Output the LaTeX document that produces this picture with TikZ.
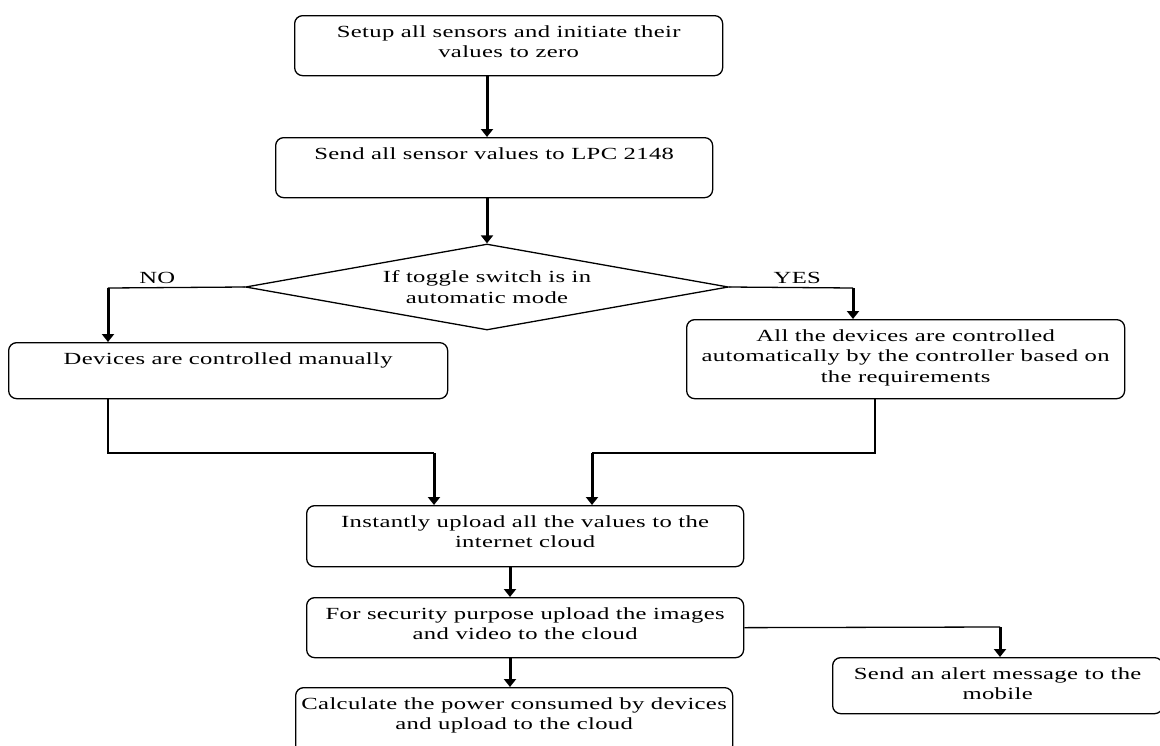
\documentclass[tikz,border=0pt]{standalone}
\usepackage{fontspec}
\setmainfont{Liberation Serif}[FakeStretch=1.45, LetterSpace=2]
\usetikzlibrary{arrows.meta}
\usetikzlibrary{shapes.geometric}

% box text: width, height, lines (top aligned)
\newcommand{\boxtext}[3]{\parbox[c][#2pt][t]{#1pt}{\centering\vspace*{10pt}#3}}

\tikzset{
      procbox/.style={draw=black, line width=1.3, rounded corners=8pt, inner sep=0pt, anchor=north west},
      decision/.style={draw=black, line width=1.3, diamond, aspect=5.6, inner sep=0pt,
            minimum width=483pt, minimum height=86pt, align=center},
      flow/.style={draw=black, line width=3, -{Triangle[width=12pt, length=8pt]}},
      link/.style={draw=black, line width=1.3},
}

\begin{document}
\begin{tikzpicture}[x=1pt, y=-1pt, font=\fontsize{17}{20.5}\selectfont]
        \useasboundingbox (0,0) rectangle (1160,745);

        % Draw the boxes
        \node[procbox] (setup) at (294,15) {\boxtext{428}{60}{Setup all sensors and initiate their\\values to zero}};
        \node[procbox] (send) at (275,137) {\boxtext{437}{60}{Send all sensor values to LPC 2148}};
        \node[decision] (decide) at (487,287) {If toggle switch is in\\automatic mode};
        \node[procbox] (manual) at (8,342) {\boxtext{439}{56}{Devices are controlled manually}};
        \node[procbox] (auto) at (686,319) {\boxtext{438}{79}{All the devices are controlled\\automatically by the controller based on\\the requirements}};
        \node[procbox] (upload) at (306,505) {\boxtext{437}{61}{Instantly upload all the values to the\\internet cloud}};
        \node[procbox] (secure) at (306,597) {\boxtext{437}{60}{For security purpose upload the images\\and video to the cloud}};
        \node[procbox] (calc) at (295,687) {\boxtext{437}{66}{Calculate the power consumed by devices\\and upload to the cloud}};
        \node[procbox] (alert) at (832,657) {\boxtext{330}{56}{Send an alert message to the\\mobile}};

        % Corners of the connectors
        \coordinate (nocorner) at (108,288);
        \coordinate (yescorner) at (853,288);
        \coordinate (mancorner) at (108,453);
        \coordinate (autocorner) at (875,453);
        \coordinate (leftdrop) at (434,453);
        \coordinate (rightdrop) at (592,453);
        \coordinate (midx) at (510,0);
        \coordinate (alertcorner) at (1000,627);

        % Draw the connectors
        \draw[flow] (decide.north |- setup.south) -- (decide.north |- send.north);
        \draw[flow] (decide.north |- send.south) -- (decide.north);

        \draw[link] (decide.west) -- (nocorner) node[pos=0.64, above] {NO};
        \draw[flow] (nocorner) -- (nocorner |- manual.north);
        \draw[link] (decide.east) -- (yescorner) node[pos=0.55, above] {YES};
        \draw[flow] (yescorner) -- (yescorner |- auto.north);

        \draw[link] (mancorner |- manual.south) -- (mancorner) -- (leftdrop);
        \draw[flow] (leftdrop) -- (leftdrop |- upload.north);
        \draw[link] (autocorner |- auto.south) -- (autocorner) -- (rightdrop);
        \draw[flow] (rightdrop) -- (rightdrop |- upload.north);

        \draw[flow] (midx |- upload.south) -- (midx |- secure.north);
        \draw[flow] (midx |- secure.south) -- (midx |- calc.north);
        \draw[link] (secure.east) -- (alertcorner);
        \draw[flow] (alertcorner) -- (alertcorner |- alert.north);

    \end{tikzpicture}
\end{document}
